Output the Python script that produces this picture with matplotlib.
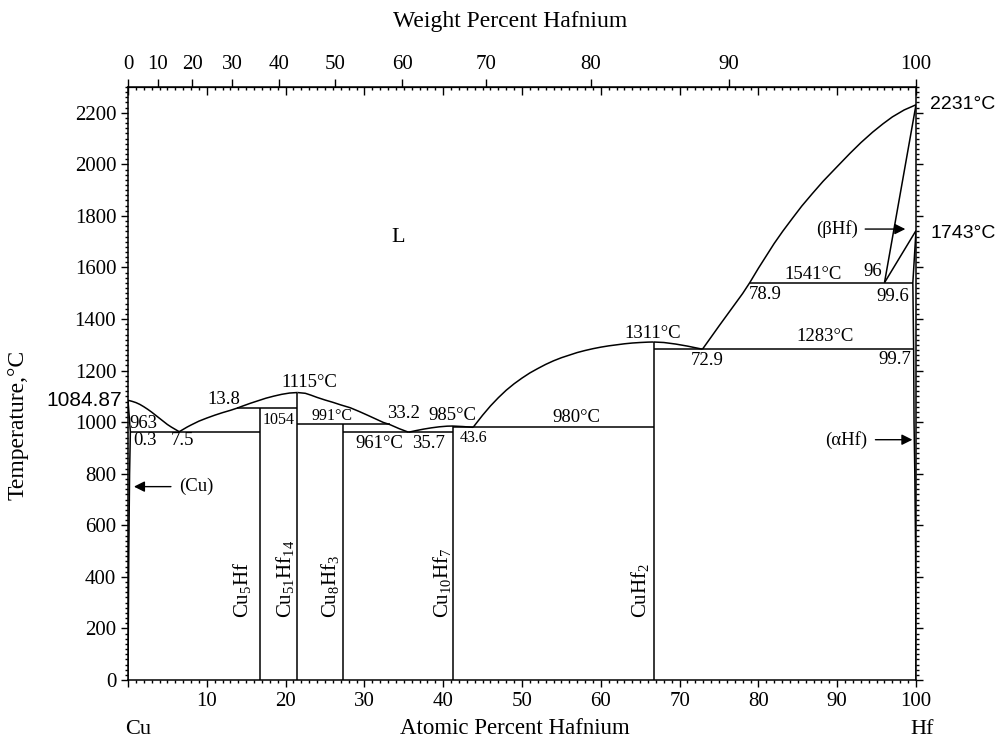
import numpy as np
import matplotlib.pyplot as plt
from matplotlib.ticker import MultipleLocator, NullLocator

plt.rcParams['font.family'] = ['Liberation Serif', 'DejaVu Serif']
plt.rcParams['mathtext.fontset'] = 'custom'
plt.rcParams['mathtext.rm'] = 'Liberation Serif'
plt.rcParams['mathtext.it'] = 'Liberation Serif:italic'
SANS = ['Liberation Sans', 'DejaVu Sans']

# phase boundaries, (at.% Hf, temperature °C)
liq1_x = [0, 0.5, 1, 1.5, 2, 2.5, 3, 3.5, 4, 4.5, 5, 5.5, 6, 6.5]
liq1_t = [1084.87, 1081, 1076, 1069, 1060, 1050, 1039, 1027, 1015, 1003, 991, 981, 972, 963]
liq2_x = [6.5, 7, 7.5, 8, 9, 10, 11, 12, 13, 13.8, 14.5, 15.5, 16.5, 17.5, 18.5, 19.5, 20.5, 21.5]
liq2_t = [963, 972, 981, 989, 1004, 1016, 1027, 1037, 1046, 1054, 1062, 1073, 1083, 1093, 1101, 1108, 1113, 1115]
liq3_x = [21.5, 22.5, 23.2, 24, 25, 26, 27, 28.2, 29.3, 30.4, 31.4, 32.4, 33.2, 34.4, 35.6]
liq3_t = [1115, 1112, 1105, 1096, 1086, 1077, 1067, 1056, 1042, 1027, 1013, 999, 991, 975, 961]
liq4_x = [35.6, 36.5, 37.5, 38.5, 39.5, 40.5, 41.2, 42.5, 43.8]
liq4_t = [961, 967, 973, 978, 982, 984.5, 985, 983, 980]
liq5_x = [43.8, 44, 45, 46, 47, 48, 49, 50, 51, 52, 53, 54, 55, 56, 57, 58, 59, 60,
          61, 62, 63, 64, 65, 66, 66.7]
liq5_t = [980, 988, 1027, 1063, 1095, 1124, 1149, 1171, 1191, 1208, 1224, 1238, 1250, 1260, 1270, 1278, 1285, 1291,
          1296, 1300, 1304, 1307, 1309, 1310.5, 1311]
liq6_x = [66.7, 68, 69.5, 71, 72.9]
liq6_t = [1311, 1309, 1303, 1295, 1283]
liq7_x = [72.9, 74, 75, 76, 77, 78, 78.9, 80, 81, 82, 83.1, 84.3, 85.5, 86.8, 88.2, 89.8,
          91.6, 93, 94.5, 95.8, 97, 98.5, 100]
liq7_t = [1283, 1330, 1373, 1415, 1457, 1499, 1541, 1597, 1645, 1693, 1741, 1790, 1838, 1885, 1934, 1985,
          2042, 2084, 2125, 2157, 2184, 2211, 2231]

cu_x = [0, 0.3, 0.2, 0.1, 0]
cu_t = [1084.87, 963, 800, 500, 0]
hf_sol_x = [96, 100]
hf_sol_t = [1541, 2231]
hf_beta_x = [96, 100]
hf_beta_t = [1541, 1743]
hf_alpha_x = [100, 99.6, 99.7, 99.75, 99.85, 99.95, 100]
hf_alpha_t = [1743, 1541, 1283, 1000, 800, 500, 0]

# horizontal invariant lines: (x start, x end, temperature)
iso_x0 = [0.3, 13.8, 21.5, 27.3, 41.2, 66.7, 78.9]
iso_x1 = [16.7, 21.5, 33.2, 41.2, 66.7, 99.7, 99.6]
iso_t = [963, 1054, 991, 961, 980, 1283, 1541]

# compounds: composition, top temperature, label
comp_x = [16.7, 21.5, 27.3, 41.2, 66.7]
comp_t = [1054, 1115, 991, 985, 1311]
comp_lab = ['Cu$_5$Hf', 'Cu$_{51}$Hf$_{14}$', 'Cu$_8$Hf$_3$', 'Cu$_{10}$Hf$_7$', 'CuHf$_2$']
comp_lx = [14.5, 19.9, 25.6, 39.8, 65.0]

M_HF = 178.49
M_CU = 63.546


def at2wt(a):
    a = np.asarray(a, float)
    with np.errstate(divide='ignore', invalid='ignore'):
        return 100 * a * M_HF / (a * M_HF + (100 - a) * M_CU)


def wt2at(w):
    w = np.asarray(w, float)
    with np.errstate(divide='ignore', invalid='ignore'):
        return 100 * (w / M_HF) / (w / M_HF + (100 - w) / M_CU)


fig = plt.figure(figsize=(9.96, 7.42), dpi=100)
ax = fig.add_axes([128 / 996, 1 - 680 / 742, 788 / 996, 593 / 742])

lw = 1.1
for xs, ts in [(liq1_x, liq1_t), (liq2_x, liq2_t), (liq3_x, liq3_t), (liq4_x, liq4_t),
               (liq5_x, liq5_t), (liq6_x, liq6_t), (liq7_x, liq7_t),
               (cu_x, cu_t), (hf_sol_x, hf_sol_t), (hf_beta_x, hf_beta_t),
               (hf_alpha_x, hf_alpha_t)]:
    ax.plot(xs, ts, color='k', lw=lw, solid_capstyle='butt', solid_joinstyle='round')

ax.hlines(iso_t, iso_x0, iso_x1, color='k', lw=lw)
ax.vlines(comp_x, 0, comp_t, color='k', lw=lw)

for x, lab in zip(comp_lx, comp_lab):
    ax.text(x, 240, lab, rotation=90, ha='center', va='bottom', fontsize=15)

ax.set_xlim(0, 100)
ax.set_ylim(0, 2300)
ax.set_xticks(range(0, 101, 10))
ax.set_xticklabels([''] + [str(v) for v in range(10, 101, 10)])
ax.set_yticks(range(0, 2201, 200))
ax.xaxis.set_minor_locator(MultipleLocator(1))
ax.yaxis.set_minor_locator(MultipleLocator(20))
ax.tick_params(which='both', direction='out', labelsize=15, width=1, right=True)
ax.tick_params(which='major', length=5)
ax.tick_params(which='minor', length=2.5)
for s in ax.spines.values():
    s.set_linewidth(1.1)

# inner ticks along the top (atomic %)
top_in = ax.secondary_xaxis('top', functions=(lambda v: v, lambda v: v))
top_in.set_xticks(range(0, 101, 10))
top_in.xaxis.set_minor_locator(MultipleLocator(1))
top_in.tick_params(which='both', direction='in', labeltop=False, width=1)
top_in.tick_params(which='major', length=6)
top_in.tick_params(which='minor', length=2.5)

# weight percent scale
wt_ticks = list(range(0, 101, 10))
top_wt = ax.secondary_xaxis('top', functions=(at2wt, wt2at))
top_wt.set_xticks(wt_ticks)
top_wt.xaxis.set_minor_locator(NullLocator())
top_wt.tick_params(direction='out', length=6, width=1, labelsize=15, pad=3)

fs = 13.5
small = 11.5
txt = [
    (34.3, 1715, 'L', 16),
    (23.0, 1153, '1115°C', fs),
    (12.1, 1087, '13.8', fs),
    (1.9, 994, '963', fs),
    (2.2, 928, '0.3', fs),
    (6.9, 928, '7.5', fs),
    (19.1, 1010, '1054', small),
    (25.9, 1025, '991°C', small),
    (34.9, 1033, '33.2', fs),
    (41.2, 1025, '985°C', fs),
    (31.9, 917, '961°C', fs),
    (38.1, 917, '35.7', fs),
    (43.9, 938, '43.6', small),
    (56.9, 1017, '980°C', fs),
    (66.6, 1342, '1311°C', fs),
    (73.5, 1238, '72.9', fs),
    (88.5, 1331, '1283°C', fs),
    (97.3, 1242, '99.7', fs),
    (86.9, 1574, '1541°C', fs),
    (80.8, 1497, '78.9', fs),
    (94.5, 1586, '96', fs),
    (97.0, 1489, '99.6', fs),
]
for x, t, s, f in txt:
    ax.text(x, t, s, ha='center', va='center', fontsize=f)

arrow = dict(arrowstyle='-|>', color='k', lw=1, mutation_scale=16)
ax.text(8.7, 750, '(Cu)', ha='center', va='center', fontsize=fs)
ax.annotate('', xy=(0.4, 750), xytext=(5.8, 750), arrowprops=arrow)
ax.text(90.0, 1749, '(βHf)', ha='center', va='center', fontsize=fs)
ax.annotate('', xy=(99.0, 1749), xytext=(93.2, 1749), arrowprops=arrow)
ax.text(91.2, 932, '(αHf)', ha='center', va='center', fontsize=fs)
ax.annotate('', xy=(99.9, 932), xytext=(94.5, 932), arrowprops=arrow)

ax.text(101.8, 2232, '2231°C', ha='left', va='center', fontsize=14, family=SANS, clip_on=False)
ax.text(101.8, 1733, '1743°C', ha='left', va='center', fontsize=14, family=SANS, clip_on=False)
ax.text(-0.75, 1084, '1084.87', ha='right', va='center', fontsize=15, family=SANS, clip_on=False)

fig.text(515 / 996, 1 - 729 / 742, 'Atomic Percent Hafnium', ha='center', va='center', fontsize=16.5)
fig.text(510 / 996, 1 - 22 / 742, 'Weight Percent Hafnium', ha='center', va='center', fontsize=17)
fig.text(138 / 996, 1 - 729 / 742, 'Cu', ha='center', va='center', fontsize=16)
fig.text(922 / 996, 1 - 729 / 742, 'Hf', ha='center', va='center', fontsize=16)
fig.text(18 / 996, 1 - 425 / 742, 'Temperature,°C', ha='center', va='center', rotation=90, fontsize=17)

fig.savefig('out.png', dpi=100)
